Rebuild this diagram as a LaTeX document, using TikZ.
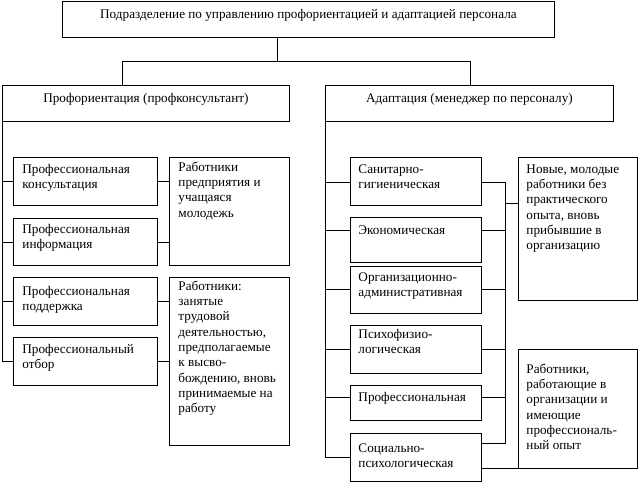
\documentclass[tikz,border=0pt]{standalone}
\usepackage{fontspec}
\setmainfont{Liberation Serif}
\newdimen\pxu \pxu=0.75pt
% box text: width, height, top pad, left pad, text
\newcommand{\bt}[5]{\parbox[t][#2\pxu][t]{#1\pxu}{\raggedright\leftskip=#4\pxu\vspace*{#3\pxu}\strut#5}}
% centred text: width, height, top pad, text
\newcommand{\ct}[4]{\parbox[t][#2\pxu][t]{#1\pxu}{\centering\vspace*{#3\pxu}\strut#4}}
\tikzset{
  box/.style={draw, inner sep=0pt, anchor=north west, line width=0.7pt},
  link/.style={draw, line width=0.7pt},
}
\begin{document}
\begin{tikzpicture}[x=0.75pt, y=-0.75pt, font=\fontsize{9.9}{11.5}\selectfont]
\useasboundingbox (0,0) rectangle (638,482);
\fill[white] (0,0) rectangle (638,482);
% top and level-1 boxes
\node[box] (top) at (62,1) {\ct{492}{36}{6}{Подразделение по управлению профориентацией и адаптацией персонала}};
\node[box] (L) at (2,85) {\ct{287}{36}{6}{Профориентация (профконсультант)}};
\node[box] (R) at (325,85) {\ct{288}{36}{6}{Адаптация (менеджер по персоналу)}};
% left column
\node[box] (l1) at (13,157) {\bt{144}{48}{5}{9}{Профессиональная\\консультация}};
\node[box] (l2) at (13,218) {\bt{144}{47}{4}{9}{Профессиональная\\информация}};
\node[box] (l3) at (13,277) {\bt{144}{48}{7}{9}{Профессиональная\\поддержка}};
\node[box] (l4) at (13,337) {\bt{144}{48}{5}{9}{Профессиональный\\отбор}};
\node[box] (lA) at (169,157) {\bt{120}{108}{3}{9}{Работники\\предприятия и\\учащаяся\\молодежь}};
\node[box] (lB) at (169,277) {\bt{120}{168}{2}{9}{Работники:\\занятые\\трудовой\\деятельностью,\\предполагаемые\\к высво-\\бождению, вновь\\принимаемые на\\работу}};
% right column
\node[box] (r1) at (350,157) {\bt{131}{48}{5}{8}{Санитарно-\\гигиеническая}};
\node[box] (r2) at (350,217) {\bt{131}{45}{6}{8}{Экономическая}};
\node[box] (r3) at (350,266) {\bt{131}{47}{4}{8}{Организационно-\\административная}};
\node[box] (r4) at (350,325) {\bt{131}{48}{2}{8}{Психофизио-\\логическая}};
\node[box] (r5) at (350,385) {\bt{131}{35}{5}{8}{Профессиональная}};
\node[box] (r6) at (350,433) {\bt{131}{48}{8}{8}{Социально-\\психологическая}};
\node[box] (rA) at (518,157) {\bt{119}{143}{5}{8}{Новые, молодые\\работники без\\практического\\опыта, вновь\\прибывшие в\\организацию}};
\node[box] (rB) at (518,349) {\bt{119}{119}{13}{8}{Работники,\\работающие в\\организации и\\имеющие\\профессиональ-\\ный опыт}};
% top connectors
\coordinate (tj) at (277,61);
\coordinate (lj) at (122,61);
\coordinate (rj) at (470,61);
\draw[link] (tj |- top.south) -- (tj);
\draw[link] (lj |- L.north) -- (lj) -- (rj) -- (rj |- R.north);
% left bus
\draw[link] (L.south west) |- (l4.west);
\draw[link] (L.south west |- l1.west) -- (l1.west);
\draw[link] (L.south west |- l2.west) -- (l2.west);
\draw[link] (L.south west |- l3.west) -- (l3.west);
\draw[link] (l1.east) -- (l1.east -| lA.west);
\draw[link] (l2.east) -- (l2.east -| lA.west);
\draw[link] (l3.east) -- (l3.east -| lB.west);
\draw[link] (l4.east) -- (l4.east -| lB.west);
% right bus
\coordinate (a1) at (325,182);
\coordinate (a2) at (325,230);
\coordinate (a3) at (325,289);
\coordinate (a4) at (325,349);
\coordinate (a5) at (325,397);
\coordinate (a6) at (325,457);
\draw[link] (R.south west) -- (a6) -- (a6 -| r6.west);
\draw[link] (a1) -- (a1 -| r1.west);
\draw[link] (a2) -- (a2 -| r2.west);
\draw[link] (a3) -- (a3 -| r3.west);
\draw[link] (a4) -- (a4 -| r4.west);
\draw[link] (a5) -- (a5 -| r5.west);
% inner right bus
\coordinate (b1) at (505,182);
\coordinate (b2) at (505,230);
\coordinate (b3) at (505,289);
\coordinate (b4) at (505,349);
\coordinate (b5) at (505,397);
\coordinate (b6) at (505,443);
\coordinate (bA) at (505,203);
\draw[link] (b1 -| r1.east) -- (b1) -- (b6) -- (b6 -| r6.east);
\draw[link] (b2 -| r2.east) -- (b2);
\draw[link] (b3 -| r3.east) -- (b3);
\draw[link] (b4 -| r4.east) -- (b4);
\draw[link] (b5 -| r5.east) -- (b5);
\draw[link] (bA) -- (bA -| rA.west);
\draw[link] (r6.east |- rB.south) -- (rB.south west);
\end{tikzpicture}
\end{document}
